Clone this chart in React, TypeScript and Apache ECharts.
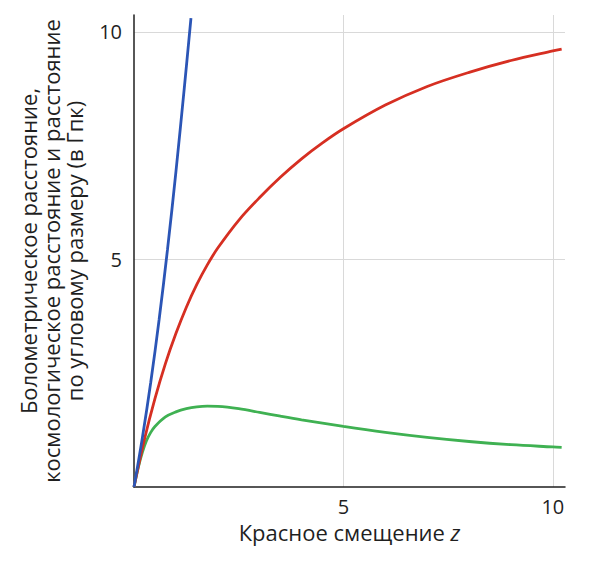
import React, { useEffect, useRef } from "react";
import * as echarts from "echarts";

// Redshift z vs distance (Gpc)
const comovingData: [number, number][] = [
  [0, 0], [0.25, 1.05], [0.5, 1.94], [0.75, 2.71], [1, 3.37], [1.25, 3.95],
  [1.5, 4.45], [1.75, 4.88], [2, 5.25], [2.5, 5.86], [3, 6.36], [3.5, 6.81],
  [4, 7.21], [4.5, 7.56], [5, 7.87], [6, 8.39], [7, 8.8], [8, 9.11],
  [9, 9.37], [10, 9.58], [10.21, 9.62],
];

const luminosityData: [number, number][] = [
  [0, 0], [0.2, 1.08], [0.4, 2.3], [0.6, 3.68], [0.8, 5.22], [1.0, 6.92],
  [1.2, 8.76], [1.36, 10.3],
];

const angularData: [number, number][] = [
  [0, 0], [0.1, 0.42], [0.2, 0.76], [0.3, 1.02], [0.4, 1.2], [0.5, 1.33],
  [0.75, 1.54], [1, 1.65], [1.25, 1.72], [1.5, 1.76], [1.75, 1.775],
  [2, 1.77], [2.5, 1.72], [3, 1.64], [3.5, 1.555], [4, 1.475], [5, 1.33],
  [6, 1.2], [7, 1.09], [8, 1.0], [9, 0.93], [10, 0.88], [10.21, 0.87],
];

const xTickLabels = [5, 10];
const yTickLabels = [5, 10];

const xName = "Красное смещение {i|z}";
const yName =
  "Болометрическое расстояние,\nкосмологическое расстояние и расстояние\nпо угловому размеру (в Гпк)";

const FONT = "'Open Sans', 'Noto Sans', sans-serif";
const TEXT = "#1f1f1f";

export default function App() {
  const ref = useRef<HTMLDivElement>(null);

  useEffect(() => {
    document.body.style.margin = "0";
    const chart = echarts.init(ref.current as HTMLDivElement, null, {
      renderer: "svg",
    });

    const axisCommon = {
      type: "value" as const,
      min: 0,
      interval: 5,
      axisLine: { show: true, onZero: false, lineStyle: { color: TEXT, width: 1.5 } },
      axisTick: { show: false },
      splitLine: {
        show: true,
        showMinLine: false,
        showMaxLine: false,
        lineStyle: { color: "#d9d9d9", width: 1 },
      },
    };

    const line = (data: [number, number][], color: string) => ({
      type: "line",
      data,
      showSymbol: false,
      smooth: 0.35,
      lineStyle: { color, width: 2.8 },
      itemStyle: { color },
    });

    chart.setOption({
      animation: false,
      backgroundColor: "#ffffff",
      grid: { left: 134, right: 35, top: 15, bottom: 76, containLabel: false },
      xAxis: {
        ...axisCommon,
        max: 10.29,
        name: xName,
        nameLocation: "middle",
        nameGap: 32,
        nameTextStyle: {
          fontFamily: FONT,
          fontSize: 22,
          lineHeight: 22,
          color: TEXT,
          rich: {
            i: { fontFamily: FONT, fontSize: 22, lineHeight: 22, color: TEXT, fontStyle: "italic" },
          },
        },
        axisLabel: {
          fontFamily: FONT,
          fontSize: 20,
          lineHeight: 18,
          color: TEXT,
          margin: 10,
          formatter: (v: number) => (xTickLabels.includes(v) ? String(v) : ""),
        },
      },
      yAxis: {
        ...axisCommon,
        max: 10.37,
        name: yName,
        nameLocation: "middle",
        nameRotate: 90,
        nameGap: 49,
        nameTextStyle: {
          fontFamily: FONT,
          fontSize: 22,
          lineHeight: 23,
          color: TEXT,
          align: "center",
        },
        axisLabel: {
          fontFamily: FONT,
          fontSize: 20,
          color: TEXT,
          margin: 12,
          formatter: (v: number) => (yTickLabels.includes(v) ? String(v) : ""),
        },
      },
      series: [
        line(angularData, "#3fb152"),
        line(comovingData, "#d62f22"),
        line(luminosityData, "#2b55b6"),
      ],
    });

    return () => chart.dispose();
  }, []);

  return <div ref={ref} style={{ width: 600, height: 563 }} />;
}
